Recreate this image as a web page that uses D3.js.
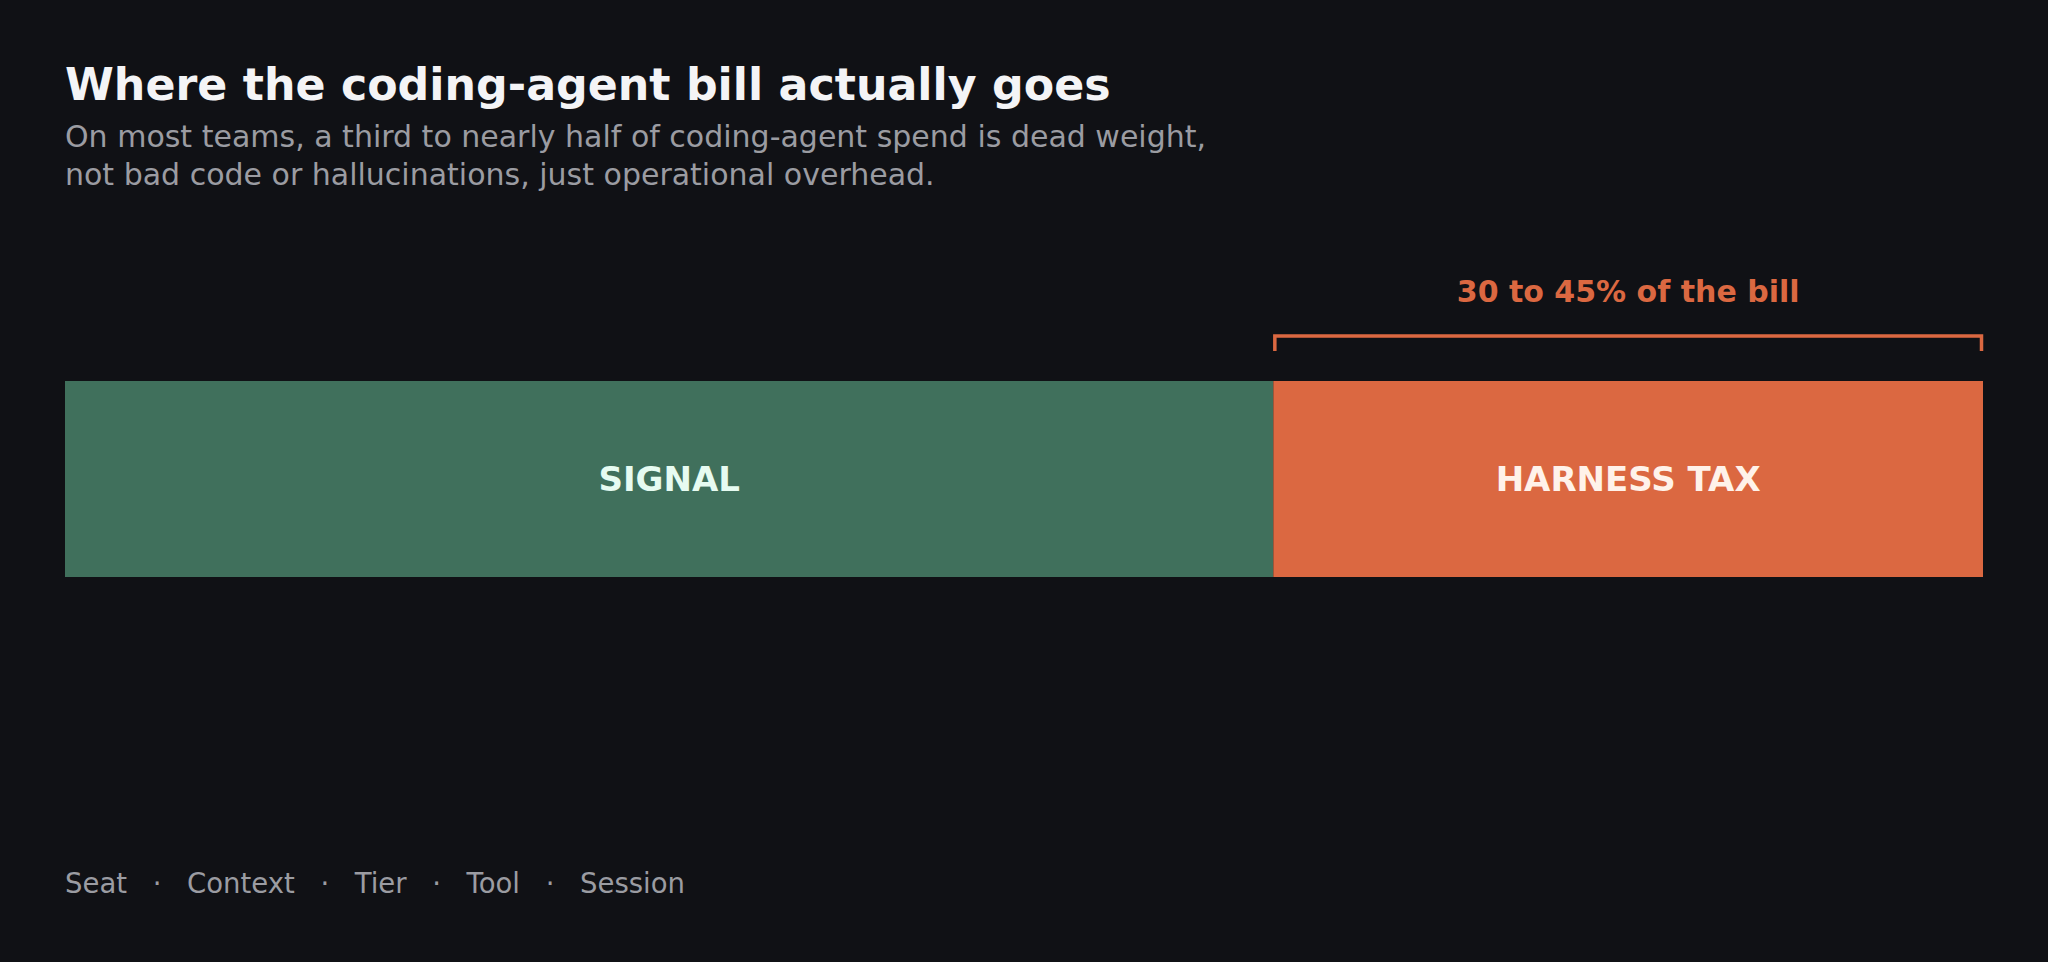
<!DOCTYPE html>
<html lang="en">
<head>
  <meta charset="UTF-8">
  <title>Where the coding-agent bill actually goes</title>
  <script src="https://d3js.org/d3.v7.min.js"></script>
  <style>
    body { margin: 0; background: #101115; }
    svg text { font-family: "DejaVu Sans", sans-serif; }
  </style>
</head>
<body>
  <div id="chart"></div>
  <script>
    // data
    const segments = ["SIGNAL", "HARNESS TAX"];
    const shares = [63, 37];
    const segColors = ["#40705c", "#db6841"];
    const labelColors = ["#e6fbf1", "#fff2ea"];
    const bracketText = "30 to 45% of the bill";
    const levers = ["Seat", "Context", "Tier", "Tool", "Session"];

    const width = 2048, height = 962;
    const margin = { left: 65, right: 65 };

    const svg = d3.select("#chart").append("svg")
      .attr("width", width)
      .attr("height", height);

    svg.append("rect").attr("width", width).attr("height", height).attr("fill", "#101115");

    svg.append("text")
      .attr("x", 65).attr("y", 100)
      .attr("fill", "#f4f4f6")
      .attr("font-size", 44.3).attr("font-weight", "bold")
      .text("Where the coding-agent bill actually goes");

    const sub = svg.append("text")
      .attr("fill", "#9b9ca2")
      .attr("font-size", 30);
    sub.append("tspan").attr("x", 65).attr("y", 147)
      .text("On most teams, a third to nearly half of coding-agent spend is dead weight,");
    sub.append("tspan").attr("x", 65).attr("y", 185)
      .text("not bad code or hallucinations, just operational overhead.");

    // stacked bar
    const total = d3.sum(shares);
    const x = d3.scaleLinear().domain([0, total]).range([margin.left, width - margin.right]);
    const barTop = 381, barH = 196;

    let acc = 0;
    const stacked = segments.map((s, i) => {
      const d = { name: s, x0: acc, x1: acc + shares[i], i };
      acc += shares[i];
      return d;
    });

    svg.selectAll("rect.seg")
      .data(stacked)
      .enter().append("rect")
      .attr("class", "seg")
      .attr("x", d => x(d.x0))
      .attr("y", barTop)
      .attr("width", d => x(d.x1) - x(d.x0))
      .attr("height", barH)
      .attr("fill", d => segColors[d.i]);

    svg.selectAll("text.seg")
      .data(stacked)
      .enter().append("text")
      .attr("class", "seg")
      .attr("x", d => (x(d.x0) + x(d.x1)) / 2)
      .attr("y", barTop + barH / 2 + 12)
      .attr("text-anchor", "middle")
      .attr("font-size", 34).attr("font-weight", "bold")
      .attr("fill", d => labelColors[d.i])
      .text(d => d.name);

    // bracket over the harness tax
    const tax = stacked[1];
    const bx0 = x(tax.x0), bx1 = x(tax.x1);
    svg.append("path")
      .attr("d", `M${bx0 + 1.5},351 V336 H${bx1 - 1.5} V351`)
      .attr("fill", "none")
      .attr("stroke", "#db6841")
      .attr("stroke-width", 3.5);

    svg.append("text")
      .attr("x", (bx0 + bx1) / 2).attr("y", 302)
      .attr("text-anchor", "middle")
      .attr("fill", "#db6841")
      .attr("font-size", 30).attr("font-weight", "bold")
      .text(bracketText);

    // footer list of levers
    const foot = svg.append("g").attr("fill", "#9b9ca2").attr("font-size", 27.5);
    let fx = 65;
    const gap = 60;
    levers.forEach((w, i) => {
      const t = foot.append("text").attr("x", fx).attr("y", 893).text(w);
      const wLen = t.node().getComputedTextLength();
      if (i < levers.length - 1) {
        foot.append("text")
          .attr("x", fx + wLen + gap / 2).attr("y", 893)
          .attr("text-anchor", "middle")
          .text("·");
      }
      fx += wLen + gap;
    });
  </script>
</body>
</html>
